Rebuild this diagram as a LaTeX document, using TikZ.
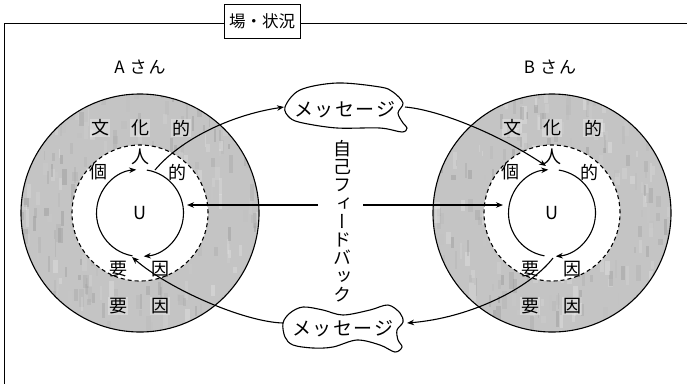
\documentclass[tikz,border=0pt]{standalone}
\usepackage{fontspec}
\setmainfont{Noto Sans CJK JP}
\newfontfamily\jpv[RawFeature=+vert]{Noto Sans CJK JP}
\usetikzlibrary{arrows.meta}
\begin{document}
\begin{tikzpicture}[x=1pt,y=1pt,
  line/.style={line width=1.1pt},
  arr/.style={line width=1.1pt,-{Stealth[length=7pt,width=5.5pt]}},
  lbl/.style={font=\fontsize{18}{18}\selectfont, inner sep=1pt},
  ringlbl/.style={lbl, fill=white, fill opacity=0.3, text opacity=1},
  msg/.style={font=\fontsize{19}{19}\selectfont, inner sep=0pt},
  blob/.style={line width=1.1pt, fill=white}]
\useasboundingbox (0,0) rectangle (687,-384);
% frame
\node[draw, line width=0.9pt, minimum width=76pt, minimum height=34pt, inner sep=2pt,
  font=\fontsize{16.5}{16.5}\selectfont] (title) at (262,-21) {場・状況};
\coordinate (fl) at (4,-23);
\coordinate (fb) at (4,-384);
\coordinate (fr) at (687,-23);
\draw[line width=0.9pt] (title.west |- fl) -- (fl) -- (fb);
\draw[line width=0.9pt] (title.east |- fr) -- (fr);
% persons
\pgfmathsetseed{11}
\foreach \p/\cx in {A/140,B/552}{
  \begin{scope}[shift={(\cx,-213)}]
    \begin{scope}
      \clip (0,0) circle[radius=119];
      \fill[black!23] (0,0) circle[radius=119];
      \foreach \i in {1,...,320}{
        \pgfmathsetmacro\xx{rand*120}
        \pgfmathsetmacro\yy{rand*120}
        \pgfmathsetmacro\ww{1.5+rnd*4}
        \pgfmathsetmacro\hh{5+rnd*14}
        \pgfmathtruncatemacro\gg{5+rnd*45}
        \fill[black!\gg, opacity=0.3] (\xx,\yy) rectangle ++(\ww,\hh);
      }
    \end{scope}
    \draw[line] (0,0) circle[radius=119];
    \draw[line, fill=white, dash pattern=on 4pt off 3pt] (0,0) circle[radius=68];
    \coordinate (\p-c) at (0,0);
    \node[lbl] (\p-u) at (0,0) {U};
    \draw[arr] (81:43.5) arc[start angle=81, end angle=-85, radius=43.5];
    \draw[arr] (-100:43.5) arc[start angle=-100, end angle=-265, radius=43.5];
    \node[ringlbl] (\p-bun) at (-40,85) {文};
    \node[ringlbl] (\p-ka) at (0,85) {化};
    \node[ringlbl] (\p-teki) at (41,85) {的};
    \node[ringlbl] (\p-you2) at (-22,-93) {要};
    \node[ringlbl] (\p-in2) at (20,-93) {因};
    \node[lbl] (\p-hito) at (0,56) {人};
    \node[lbl] (\p-ko) at (-42,41) {個};
    \node[lbl] (\p-teki2) at (37,41) {的};
    \node[lbl] (\p-you) at (-22,-56) {要};
    \node[lbl] (\p-in) at (20,-56) {因};
  \end{scope}
}
\node[font=\fontsize{17}{17}\selectfont] (an) at (140,-67) {A\hspace{5pt}さ\hspace{2pt}ん};
\node[font=\fontsize{17}{17}\selectfont] (bn) at (550,-67) {B\hspace{5pt}さ\hspace{2pt}ん};
% messages
\draw[blob] plot[smooth cycle, tension=0.55] coordinates {
  (285,-107) (300,-90) (337,-83) (380,-87) (393,-92) (403,-103) (398,-113)
  (403,-123) (407,-128) (402,-132) (380,-128) (337,-128) (303,-123) (290,-118)};
\node[msg] (mt) at (345,-110) {メ\hspace{1.5pt}ッ\hspace{1.5pt}セ\hspace{1.5pt}ー\hspace{1.5pt}ジ};
\draw[blob] plot[smooth cycle, tension=0.55] coordinates {
  (283,-323) (290,-313) (303,-307) (323,-310) (343,-315) (370,-310) (388,-305)
  (400,-313) (403,-322) (397,-330) (398,-340) (402,-347) (395,-352) (380,-345)
  (357,-340) (333,-347) (313,-348) (293,-345) (285,-337)};
\node[msg] (mb) at (343,-329) {メ\hspace{1.5pt}ッ\hspace{1.5pt}セ\hspace{1.5pt}ー\hspace{1.5pt}ジ};
% feedback
\node[font=\jpv\fontsize{18}{18.3}\selectfont, align=center, inner sep=0pt] (fbk) at (342,-221)
  {自\\己\\フ\\ィ\\ー\\ド\\バ\\ッ\\ク};
\coordinate (fbl) at (318,-205);
\coordinate (fbr) at (363,-205);
\coordinate (Ain) at (187,-205);
\coordinate (Bin) at (503,-205);
\draw[arr] (fbl) -- (Ain);
\draw[arr] (fbr) -- (Bin);
% message curves
\coordinate (Aout) at (155,-170);
\coordinate (mtw) at (284,-107);
\coordinate (mte) at (405,-107);
\coordinate (Btop) at (546,-166);
\coordinate (Bout) at (553,-258);
\coordinate (mbe) at (407,-323);
\coordinate (mbw) at (283,-323);
\coordinate (Abot) at (132,-257);
\draw[arr] (Aout) .. controls (180,-140) and (230,-115) .. (mtw);
\draw[arr] (mte) .. controls (440,-110) and (500,-135) .. (Btop);
\draw[arr] (Bout) .. controls (530,-288) and (470,-318) .. (mbe);
\draw[arr] (mbw) .. controls (245,-322) and (170,-290) .. (Abot);
\end{tikzpicture}
\end{document}
